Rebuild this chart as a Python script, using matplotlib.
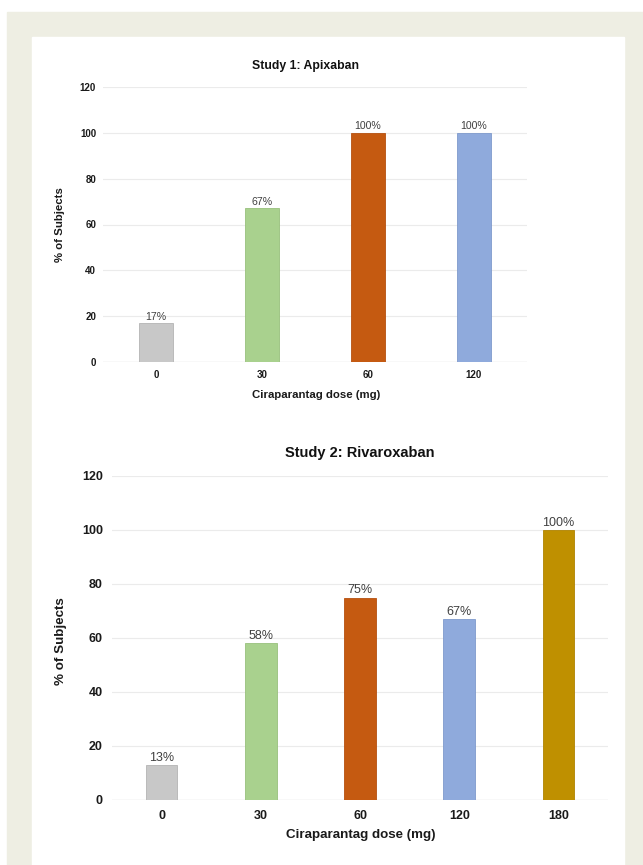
#!/usr/bin/env python3
"""
Ciraparantag dose response: % of subjects, two studies (apixaban, rivaroxaban).
Output: out.png
"""
import matplotlib
matplotlib.use("Agg")
import matplotlib.pyplot as plt
from matplotlib.patches import Rectangle

# data
doses_1 = ["0", "30", "60", "120"]
pct_1 = [17, 67, 100, 100]
doses_2 = ["0", "30", "60", "120", "180"]
pct_2 = [13, 58, 75, 67, 100]
yticks = [0, 20, 40, 60, 80, 100, 120]

COLORS = ["#c8c8c8", "#a9d18e", "#c55a11", "#8faadc", "#bf9000"]
EDGES = ["#b4b4b4", "#98c07c", "#b55010", "#7f9acc", "#af8300"]

plt.rcParams.update({
    "font.family": ["Liberation Sans", "DejaVu Sans"],
    "axes.spines.top": False,
    "axes.spines.right": False,
    "axes.spines.left": False,
    "axes.spines.bottom": False,
})

W, H = 643, 865
fig = plt.figure(figsize=(W / 100, H / 100), dpi=100)
fig.patch.set_facecolor("white")

# beige frame + white panel
fig.patches.append(Rectangle((7 / W, 0), 1 - 7 / W, 1 - 12 / H,
                             transform=fig.transFigure, color="#eeeee3", zorder=-10))
fig.patches.append(Rectangle((32 / W, 0), (624 - 32) / W, 1 - 37 / H,
                             transform=fig.transFigure, color="white", zorder=-9))


def px_axes(left, right, top, bottom):
    return fig.add_axes([left / W, 1 - bottom / H, (right - left) / W, (bottom - top) / H])


def draw(ax, cats, vals, fs_tick, fs_lab, fs_title, fs_val, title, title_x, title_y,
         ylab_xy, xlab_xy, tpad_y, tpad_x):
    ax.set_facecolor("none")
    x = range(len(cats))
    ax.bar(x, vals, width=0.32, color=COLORS[:len(cats)], edgecolor=EDGES[:len(cats)],
           linewidth=0.6, zorder=3)
    for xi, v in zip(x, vals):
        ax.annotate(f"{v}%", (xi, v), xytext=(0, 1), textcoords="offset points",
                    ha="center", va="bottom", fontsize=fs_val, color="#404040", zorder=4)
    ax.set_xlim(-0.5, len(cats) - 0.5)
    ax.set_ylim(0, 120)
    ax.set_yticks(yticks)
    ax.set_xticks(list(x))
    ax.set_xticklabels(cats)
    ax.tick_params(length=0, labelsize=fs_tick, colors="#1a1a1a")
    ax.tick_params(axis="y", pad=tpad_y)
    ax.tick_params(axis="x", pad=tpad_x)
    for lab in ax.get_xticklabels() + ax.get_yticklabels():
        lab.set_fontweight("bold")
    ax.grid(axis="y", color="#ebebeb", linewidth=0.8, zorder=0)
    ax.axhline(0, color="#d9d9d9", linewidth=0.9, zorder=2)
    ax.set_ylabel("% of Subjects", fontsize=fs_lab, fontweight="bold", color="#1a1a1a")
    ax.yaxis.set_label_coords(*ylab_xy)
    ax.set_xlabel("Ciraparantag dose (mg)", fontsize=fs_lab, fontweight="bold", color="#1a1a1a")
    ax.xaxis.set_label_coords(*xlab_xy)
    ax.text(title_x, title_y, title, transform=ax.transAxes, ha="center", va="center",
            fontsize=fs_title, fontweight="bold", color="#111111")


ax1 = px_axes(103, 527, 87, 362)
draw(ax1, doses_1, pct_1, 7, 8.2, 8.8, 7.6, "Study 1: Apixaban", 0.477, 1.076,
     (-0.09, 0.5), (0.502, -0.102), 5, 6)

ax2 = px_axes(112, 608, 476, 800)
draw(ax2, doses_2, pct_2, 9, 9.6, 10.5, 9, "Study 2: Rivaroxaban", 0.50, 1.071,
     (-0.09, 0.49), (0.502, -0.09), 6.5, 7.5)

fig.savefig("out.png", dpi=100)
print("Saved -> out.png")
